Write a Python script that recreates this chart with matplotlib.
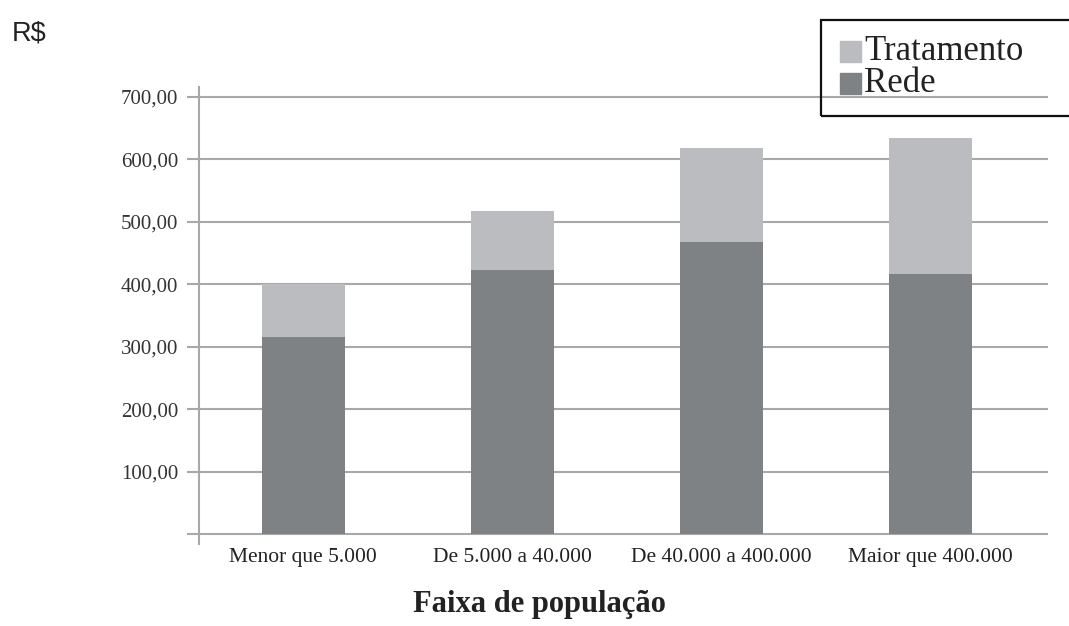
import matplotlib.pyplot as plt
import numpy as np
from matplotlib.patches import Rectangle

categorias = ["Menor que 5.000", "De 5.000 a 40.000", "De 40.000 a 400.000", "Maior que 400.000"]
rede = [315, 423, 467, 416]
tratamento = [85, 94, 151, 218]
yticks = [0, 100, 200, 300, 400, 500, 600, 700]
ytick_labels = ["", "100,00", "200,00", "300,00", "400,00", "500,00", "600,00", "700,00"]

cor_rede = "#7f8284"
cor_trat = "#bbbcc0"
cor_grade = "#a8a8a8"

serif = ["Liberation Serif", "DejaVu Serif"]

fig = plt.figure(figsize=(10.69, 6.26), dpi=100)
ax = fig.add_axes([0.186, 0.131, 0.794, 0.730])

x = np.arange(len(categorias))
ax.bar(x, rede, width=0.4, color=cor_rede, zorder=3)
ax.bar(x, tratamento, width=0.4, bottom=rede, color=cor_trat, zorder=3)

ax.set_xlim(-0.5, 3.56)
ax.set_ylim(-16, 716)
ax.set_yticks(yticks)
ax.set_yticklabels(ytick_labels, fontfamily=serif, fontsize=15, color="#333333")
ax.set_xticks(x)
ax.set_xticklabels(categorias, fontfamily=serif, fontsize=15.5, color="#222222")
ax.yaxis.grid(True, color=cor_grade, linewidth=1.5, zorder=1)
ax.tick_params(axis="y", length=9, width=1.5, color=cor_grade, pad=6)
ax.tick_params(axis="x", length=0, pad=3)

for s in ["top", "right", "bottom"]:
    ax.spines[s].set_visible(False)
ax.spines["left"].set_color(cor_grade)
ax.spines["left"].set_linewidth(1.5)

fig.text(0.505, 0.034, "Faixa de população", fontfamily=serif, fontsize=22,
         fontweight="bold", ha="center", va="center", color="#222222")
fig.text(0.011, 0.947, "R$", fontfamily=["Liberation Sans", "DejaVu Sans"],
         fontsize=19.5, ha="left", va="center", color="#222222")

# legend box
fig.patches.append(Rectangle((821 / 1069, 1 - 116 / 626), 260 / 1069, 96 / 626,
                             transform=fig.transFigure, fill=False,
                             edgecolor="#111111", linewidth=1.6))
fig.patches.append(Rectangle((840 / 1069, 1 - 62 / 626), 21 / 1069, 21 / 626,
                             transform=fig.transFigure, color=cor_trat))
fig.patches.append(Rectangle((840 / 1069, 1 - 94 / 626), 21 / 1069, 21 / 626,
                             transform=fig.transFigure, color=cor_rede))
fig.text(864 / 1069, 1 - 51 / 626, "Tratamento", fontfamily=serif, fontsize=25,
         ha="left", va="center", color="#222222")
fig.text(864 / 1069, 1 - 83 / 626, "Rede", fontfamily=serif, fontsize=25,
         ha="left", va="center", color="#222222")

fig.savefig("out.png", dpi=100)
